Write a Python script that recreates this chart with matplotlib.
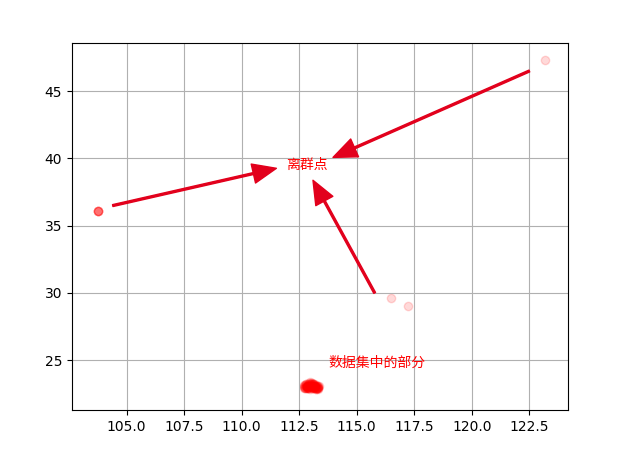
import numpy as np
import matplotlib
matplotlib.use('Agg')
import matplotlib.pyplot as plt

cjk = ['Noto Sans CJK SC', 'DejaVu Sans']

# 离群点 (经度, 纬度)
out_lon = [103.75, 103.75, 103.76, 103.74, 103.75, 123.2, 116.47, 117.24]
out_lat = [36.1, 36.1, 36.11, 36.09, 36.1, 47.3, 29.6, 29.0]

# 数据集中的部分
dense_lon = [112.7, 112.75, 112.8, 112.85, 112.9, 112.95, 113.0, 113.05, 113.1, 113.15,
             113.2, 113.25, 113.3, 113.33, 112.72, 112.8, 112.88, 112.95, 113.02, 113.1,
             113.18, 113.26, 113.32, 112.78, 112.86, 112.94, 113.0, 113.08, 113.16, 113.24,
             112.9, 113.0, 113.1, 113.2, 112.85, 113.05, 113.15, 112.95, 113.25, 113.3,
             112.7, 112.76, 112.82, 112.9, 112.98, 113.06, 113.12, 113.2, 113.28, 113.34,
             112.74, 112.84, 112.92, 113.0, 113.08, 113.18, 113.26, 112.88, 113.04, 113.14,
             112.8, 112.96, 113.1, 113.22, 113.3, 112.9, 113.02, 113.12, 112.84, 113.18,
             112.72, 112.78, 113.28, 113.32, 112.98, 113.06, 113.22, 112.86]
dense_lat = [23.0, 22.9, 23.1, 22.95, 23.2, 23.05, 23.3, 23.1, 22.9, 23.2,
             23.0, 22.85, 22.95, 23.1, 23.15, 23.25, 23.0, 23.35, 23.15, 23.25,
             23.1, 23.05, 22.85, 22.95, 23.1, 22.9, 23.2, 23.0, 22.95, 23.15,
             23.1, 23.0, 23.1, 23.05, 23.0, 22.95, 23.0, 23.2, 22.9, 23.0,
             23.05, 23.15, 23.0, 22.9, 23.25, 23.15, 23.0, 22.9, 22.95, 23.05,
             22.95, 23.05, 23.3, 23.1, 23.2, 23.05, 22.9, 23.15, 23.3, 23.1,
             23.2, 23.1, 23.05, 23.1, 23.0, 22.95, 23.0, 23.25, 23.05, 22.95,
             22.95, 23.05, 22.9, 22.95, 22.85, 22.9, 22.85, 22.9]

lon = np.array(out_lon + dense_lon)
lat = np.array(out_lat + dense_lat)

fig = plt.figure(figsize=(6.17, 4.5), dpi=100)
ax = fig.add_axes([0.1167, 0.0889, 0.8039, 0.8155])
ax.scatter(lon, lat, c='r', alpha=0.15)
ax.grid(True)
ax.set_xlim(102.63, 124.18)
ax.set_ylim(21.3, 48.57)

arrow_color = '#e2001c'
props = dict(facecolor=arrow_color, edgecolor=arrow_color, width=1.4, headwidth=14, headlength=17, shrink=0)
# 箭头指向文字
ax.annotate('', xy=(111.51, 39.26), xytext=(104.4, 36.49), arrowprops=props)
ax.annotate('', xy=(113.97, 40.07), xytext=(122.5, 46.49), arrowprops=props)
ax.annotate('', xy=(113.1, 38.37), xytext=(115.78, 30.0), arrowprops=props)

ax.text(112.85, 39.5, '离群点', color='red', ha='center', va='center', fontsize=10, family=cjk)
ax.text(113.79, 24.78, '数据集中的部分', color='red', ha='left', va='center', fontsize=10, family=cjk)

plt.savefig('out.png', dpi=100)
